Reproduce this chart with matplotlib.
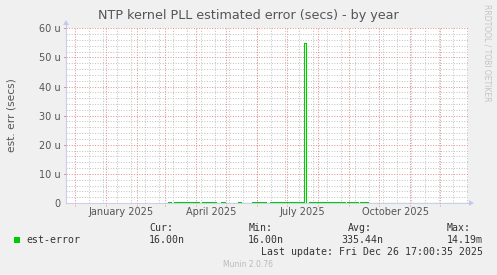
import matplotlib
matplotlib.use("Agg")
import matplotlib.pyplot as plt
import matplotlib.dates as mdates
import numpy as np
from datetime import datetime, timedelta

# ---------------- data ----------------
title = "NTP kernel PLL estimated error (secs) - by year"
ylabel = "est. err (secs)"
series_name = "est-error"

start_time = "2024-11-21 17:00"
end_time = "2025-12-26 17:00"

HI = 0.35    # micro-seconds (~300 n)
LO = 0.016   # micro-seconds (16 n)
NAN = float("nan")

step_dates = [
    "2024-11-21 17:00", "2025-03-02", "2025-03-04", "2025-03-07", "2025-03-10",
    "2025-03-21", "2025-03-22", "2025-03-28", "2025-03-29", "2025-04-04",
    "2025-04-07", "2025-04-10", "2025-04-11", "2025-04-14", "2025-04-15",
    "2025-04-18", "2025-04-19", "2025-04-21", "2025-04-26", "2025-04-30",
    "2025-05-13", "2025-05-16", "2025-05-27", "2025-05-31", "2025-06-01",
    "2025-06-05", "2025-06-06", "2025-06-10", "2025-06-14", "2025-07-18",
    "2025-07-20", "2025-07-23", "2025-08-16", "2025-08-17", "2025-08-23",
    "2025-08-24", "2025-08-28", "2025-08-30", "2025-09-04", "2025-09-05",
    "2025-09-10", "2025-09-12", "2025-09-16", "2025-09-17", "2025-09-20",
    "2025-12-26 17:00",
]
step_values = [
    NAN, LO, HI, LO, HI,
    LO, HI, LO, HI, LO,
    HI, LO, HI, LO, HI,
    LO, HI, LO, HI, LO,
    HI, LO, HI, LO, HI,
    LO, HI, LO, HI, 55.0,
    LO, HI, LO, HI, LO,
    HI, LO, HI, LO, HI,
    LO, HI, LO, HI, LO,
    LO,
]

yticks = [0, 10, 20, 30, 40, 50, 60]
ytick_labels = ["0", "10 u", "20 u", "30 u", "40 u", "50 u", "60 u"]
xlabel_dates = ["2025-01-16", "2025-04-16", "2025-07-16", "2025-10-17"]
xlabel_texts = ["January 2025", "April 2025", "July 2025", "October 2025"]

legend_heads = ["Cur:", "Min:", "Avg:", "Max:"]
legend_vals = ["16.00n", "16.00n", "335.44n", "14.19m"]
last_update = "Last update: Fri Dec 26 17:00:35 2025"
footer = "Munin 2.0.76"
side_text = "RRDTOOL / TOBI OETIKER"

# ---------------- figure ----------------
W, H = 497, 275
fig = plt.figure(figsize=(W / 100, H / 100), dpi=100)
fig.patch.set_facecolor("#F0F0F0")

def fx(px):
    return px / W

def fy(py):
    return 1 - py / H

L, R, T, B = 66, 468, 28.3, 203
ax = fig.add_axes([fx(L), fy(B), fx(R) - fx(L), fy(T) - fy(B)])
ax.set_facecolor("white")
for s in ax.spines.values():
    s.set_visible(False)

t0 = datetime.strptime(start_time, "%Y-%m-%d %H:%M")
t1 = datetime.strptime(end_time, "%Y-%m-%d %H:%M")

def parse(d):
    return datetime.strptime(d, "%Y-%m-%d %H:%M") if ":" in d else datetime.strptime(d, "%Y-%m-%d")

xs = [mdates.date2num(parse(d)) for d in step_dates]
x0 = mdates.date2num(t0)
ax.set_xlim(x0, x0 + (R - L))
ax.set_ylim(0, 60)

grid_gray = "#C4C4C4"
grid_red = "#E49090"
gkw = dict(lw=0.72, dashes=(1, 1.6))
for v in np.arange(2, 60, 2):
    if v % 10:
        ax.axhline(v, color=grid_gray, zorder=1, **gkw)
d = datetime(2024, 12, 15)
while d < t1 + timedelta(days=2):
    ax.axvline(mdates.date2num(d), color=grid_gray, zorder=1, **gkw)
    d += timedelta(days=14)
for v in yticks[1:]:
    ax.axhline(v, color=grid_red, zorder=2, **gkw)
    ax.plot([x0 - 2.5, x0], [v, v], color=grid_red, lw=0.72, clip_on=False, zorder=2)
m = datetime(2024, 12, 1)
while m < t1:
    ax.axvline(mdates.date2num(m), ymin=-0.018, ymax=1, color=grid_red,
               zorder=2, clip_on=False, **gkw)
    m = datetime(m.year + (m.month // 12), m.month % 12 + 1, 1)

# data
ax.step(xs, step_values, where="post", color="#00CC00", lw=0.8, zorder=4)

# ticks
ax.set_yticks(yticks)
ax.set_yticklabels(ytick_labels)
ax.set_xticks([mdates.date2num(parse(d)) for d in xlabel_dates])
ax.set_xticklabels(xlabel_texts)
ax.tick_params(axis="both", length=0, labelsize=7, colors="#555555")
ax.tick_params(axis="y", pad=4)
ax.tick_params(axis="x", pad=3)

# axis lines with arrows (figure coords)
axis_col = "#B4BCEC"
fig.add_artist(plt.Line2D([fx(66), fx(66)], [fy(203), fy(24)], color=axis_col, lw=0.8, alpha=0.7, zorder=5))
fig.add_artist(plt.Line2D([fx(66.5), fx(470)], [fy(203), fy(203)], color=axis_col, lw=0.8, zorder=5, alpha=0.6))
fig.add_artist(plt.Polygon([[fx(63), fy(25)], [fx(69), fy(25)], [fx(66), fy(20)]],
                           closed=True, color=axis_col, alpha=0.7, lw=0))
fig.add_artist(plt.Polygon([[fx(469), fy(200)], [fx(469), fy(206)], [fx(474), fy(203)]],
                           closed=True, color=axis_col, alpha=0.7, lw=0))

# texts
fig.text(fx(248), fy(19), title, ha="center", va="baseline", fontsize=9.2, color="#555555")
fig.text(fx(12), fy(115), ylabel, ha="center", va="center", rotation=90, fontsize=7.7, color="#555555")
fig.text(fx(487), fy(4), side_text, ha="center", va="top", rotation=270, fontsize=5.5, color="#C4C4C4")

mono = "DejaVu Sans Mono"
fs = 7.1
fig.patches.append(plt.Rectangle((fx(14), fy(243)), fx(6), fy(237) - fy(243),
                                 transform=fig.transFigure, color="#00CC00", lw=0))
fig.text(fx(26), fy(243), series_name, family=mono, fontsize=fs, color="#333333", va="baseline")
head_x = [149, 249, 348, 447]
val_right = [185, 284, 383, 482.7]
for hx, h in zip(head_x, legend_heads):
    fig.text(fx(hx), fy(231), h, family=mono, fontsize=fs, color="#333333", va="baseline")
for vx, v in zip(val_right, legend_vals):
    fig.text(fx(vx), fy(243), v, family=mono, fontsize=fs, color="#333333", va="baseline", ha="right")
fig.text(fx(482.7), fy(255), last_update, family=mono, fontsize=fs, color="#333333", va="baseline", ha="right")
fig.text(fx(248), fy(267), footer, ha="center", va="baseline", fontsize=5.5, color="#BBBBBB")

fig.savefig("out.png", dpi=100, facecolor=fig.get_facecolor())
